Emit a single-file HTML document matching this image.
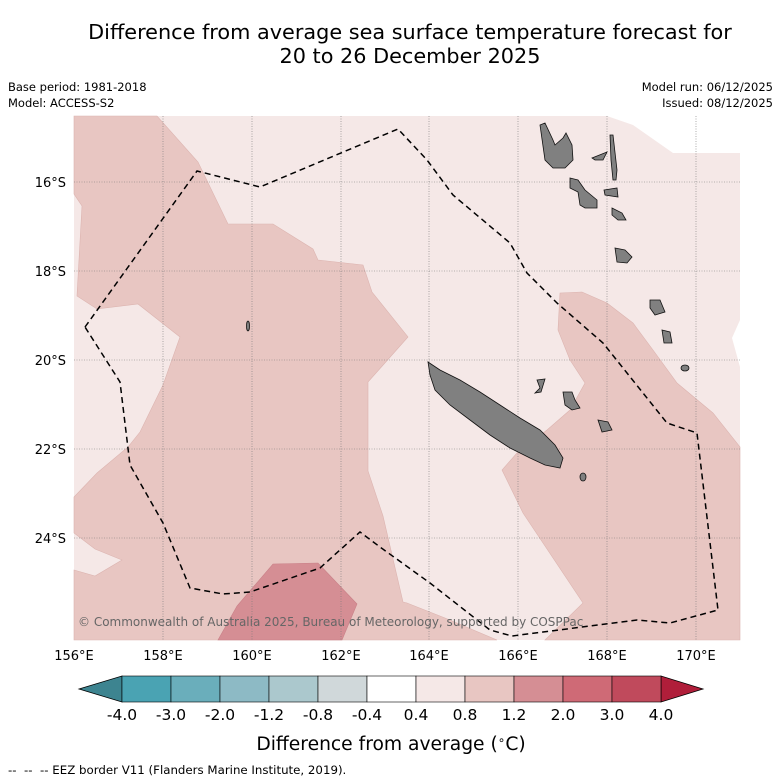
<!DOCTYPE html>
<html><head><meta charset="utf-8"><style>
body{margin:0;background:#fff;width:781px;height:781px;overflow:hidden;font-family:"Liberation Sans","DejaVu Sans",sans-serif}
svg{display:block}
text{font-family:"DejaVu Sans","Liberation Sans",sans-serif}
</style></head><body>
<svg id="chart" width="781" height="781" viewBox="0 0 781 781">
<text x="410" y="39" font-size="20.8" text-anchor="middle">Difference from average sea surface temperature forecast for</text>
<text x="410" y="63" font-size="20.8" text-anchor="middle">20 to 26 December 2025</text>
<text x="8" y="91" font-size="11.5">Base period: 1981-2018</text>
<text x="8" y="107" font-size="11.5">Model: ACCESS-S2</text>
<text x="773" y="91" font-size="11.5" text-anchor="end">Model run: 06/12/2025</text>
<text x="773" y="107" font-size="11.5" text-anchor="end">Issued: 08/12/2025</text>
<g id="map">
<rect x="74" y="116" width="666" height="524" fill="#f5e8e7"/>
<polygon fill="#ffffff" points="607,116 633,125 673,153 740,153 740,116"/>
<polygon fill="#ffffff" points="740,320 732,338 740,367"/>
<polygon fill="#e8c6c2" stroke="#dcb4b0" stroke-width="0.6" points="74,116 157,116 198,162 228,224 273,224 313,249 318,260 363,265 372,292 408,337 368,382 368,471 383,516 403,602 407,603 445,618 497,640 74,640 74,570 95,576 122,560 95,549 74,533 74,497 97,473 128,447 140,432 163,385 180,337 138,304 97,309 77,296 82,206 74,194"/>
<polygon fill="#e8c6c2" stroke="#dcb4b0" stroke-width="0.6" points="560,293 582,292 607,303 633,323 653,350 677,383 713,413 740,447 740,640 545,640 583,603 523,513 502,470 517,453 547,430 570,410 585,383 570,360 558,330"/>
<polygon fill="#d58e94" stroke="#c98088" stroke-width="0.6" points="218,640 237,606 273,564 318,563 357,604 342,640"/>
<g stroke="#777" stroke-width="0.6" stroke-dasharray="1,1.5">
<line x1="163" y1="116" x2="163" y2="640"/><line x1="252" y1="116" x2="252" y2="640"/><line x1="341" y1="116" x2="341" y2="640"/><line x1="429" y1="116" x2="429" y2="640"/><line x1="518" y1="116" x2="518" y2="640"/><line x1="607" y1="116" x2="607" y2="640"/><line x1="696" y1="116" x2="696" y2="640"/>
<line x1="74" y1="182" x2="740" y2="182"/><line x1="74" y1="271" x2="740" y2="271"/><line x1="74" y1="360" x2="740" y2="360"/><line x1="74" y1="449" x2="740" y2="449"/><line x1="74" y1="538" x2="740" y2="538"/>
</g>
<g fill="#808080" stroke="#111" stroke-width="0.8">
<polygon points="428,362 440,370 460,380 480,392 500,405 520,418 540,430 555,445 563,458 560,468 545,465 530,458 510,448 490,435 470,420 450,405 435,390 430,375"/>
<polygon points="540,125 545,123 553,140 555,145 563,138 566,133 572,145 573,160 565,168 553,168 545,160"/>
<polygon points="570,178 578,180 585,190 597,200 597,208 585,208 580,205 578,192 570,188"/>
<polygon points="592,158 607,152 603,160 595,160"/>
<polygon points="610,135 613,135 617,170 616,180 613,180 611,160"/>
<polygon points="604,190 617,188 618,197 605,195"/>
<polygon points="612,208 622,213 626,220 618,220 612,215"/>
<polygon points="615,248 625,250 632,257 627,263 617,262"/>
<polygon points="650,300 660,300 665,312 655,315 650,308"/>
<polygon points="662,330 670,332 672,343 664,343"/>
<ellipse cx="685" cy="368" rx="4" ry="3"/>
<polygon points="537,380 545,379 541,392 535,393 540,388"/>
<polygon points="563,392 572,392 575,400 580,408 572,410 565,405"/>
<polygon points="598,420 608,422 612,430 602,432"/>
<ellipse cx="583" cy="477" rx="3" ry="4"/>
<ellipse cx="248" cy="326" rx="1.5" ry="5"/>
</g>
<polyline fill="none" stroke="#000" stroke-width="1.5" stroke-dasharray="6,4" points="85,327 197,171 260,187 398,129 427,160 453,195 510,243 527,273 557,303 603,343 667,423 697,433 718,610 670,623 637,620 543,632 512,636 490,630 430,583 380,547 360,532 320,568 250,592 223,594 190,588 163,523 130,465 127,440 120,382 85,327"/>
<text x="78" y="626" font-size="12" fill="#666">© Commonwealth of Australia 2025, Bureau of Meteorology, supported by COSPPac</text>
</g>
<g font-size="13">
<text x="66" y="187" text-anchor="end">16°S</text><text x="66" y="276" text-anchor="end">18°S</text><text x="66" y="365" text-anchor="end">20°S</text><text x="66" y="454" text-anchor="end">22°S</text><text x="66" y="543" text-anchor="end">24°S</text>
</g>
<g font-size="13" text-anchor="middle">
<text x="74" y="660">156°E</text><text x="163" y="660">158°E</text><text x="252" y="660">160°E</text><text x="341" y="660">162°E</text><text x="429" y="660">164°E</text><text x="518" y="660">166°E</text><text x="607" y="660">168°E</text><text x="696" y="660">170°E</text>
</g>
<g id="cbar"></g>
<text x="391" y="750" font-size="18.7" text-anchor="middle">Difference from average (<tspan font-size="12" dy="-6">∘</tspan><tspan dy="6">C)</tspan></text>
<text x="8" y="774" font-size="11.8">-- &#160;-- &#160;-- EEZ border V11 (Flanders Marine Institute, 2019).</text>
</svg>
<script>
var levelLabels=["-4.0","-3.0","-2.0","-1.2","-0.8","-0.4","0.4","0.8","1.2","2.0","3.0","4.0"];
var levelColors=["#4aa3b3","#6aaebb","#8dbac5","#abc8cd","#d0d8da","#ffffff","#f5e8e7","#e8c6c2","#d58e94","#cf6a76","#c04a5c"];
var extendColors=["#3d8490","#b01e3a"];
(function(){
var ns="http://www.w3.org/2000/svg",g=document.getElementById("cbar");
var x0=122,x1=661,y0=676,h=26,n=levelColors.length,w=(x1-x0)/n;
function mk(t,a){var e=document.createElementNS(ns,t);for(var k in a)e.setAttribute(k,a[k]);g.appendChild(e);return e;}
var l=mk("polygon",{points:"79,"+(y0+h/2)+" "+x0+","+y0+" "+x0+","+(y0+h),fill:extendColors[0],stroke:"#000","stroke-width":0.8});


var r=mk("polygon",{points:"703,"+(y0+h/2)+" "+x1+","+y0+" "+x1+","+(y0+h),fill:extendColors[1],stroke:"#000","stroke-width":0.8});


for(var i=0;i<n;i++){
var b=mk("rect",{x:x0+i*w,y:y0,width:w,height:h,fill:levelColors[i],stroke:"#000","stroke-width":0.6});


}
for(var j=0;j<levelLabels.length;j++){
var t=mk("text",{x:x0+j*w,y:720,"font-size":15.5,"text-anchor":"middle"});
t.textContent=levelLabels[j];


}
})();
</script>
</body></html>
